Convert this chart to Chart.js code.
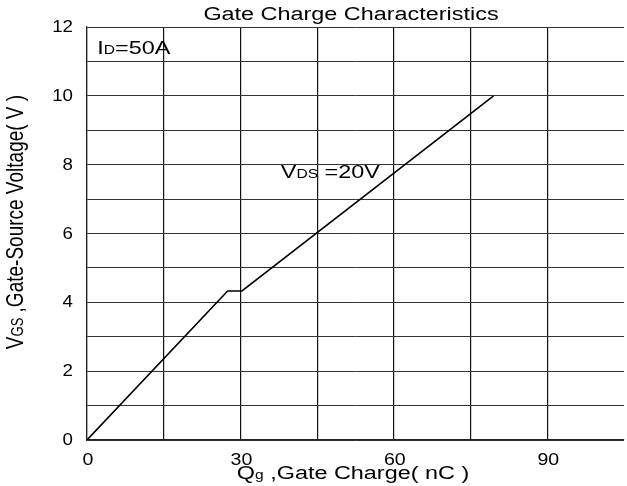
<!DOCTYPE html>
<html><head><meta charset="utf-8">
<script src="https://cdn.jsdelivr.net/npm/chart.js@4.4.1/dist/chart.umd.min.js"></script>
<style>html,body{margin:0;padding:0;background:#fff;overflow:hidden}#wrap{width:627px;height:486px}</style>
</head><body><div id="wrap"><canvas id="c" width="627" height="486"></canvas></div>
<script>
// Data
const qg = [0, 27.5, 30.3, 79.5];          // gate charge, nC
const vgs = [0, 4.33, 4.33, 10];            // gate-source voltage, V
const xLabelValues = [0, 30, 60, 90];
const yLabelValues = [0, 2, 4, 6, 8, 10, 12];
const titleText = 'Gate Charge Characteristics';
const idNote = {main: 'I', sub: 'D', rest: '=50A', x: 2, y: 11.4};
const vdsNote = {main: 'V', sub: 'DS', rest: ' =20V', x: 37.9, y: 7.8};
const xTitle = {main: 'Q', sub: 'g', rest: ' ,Gate Charge( nC )'};
const yTitle = {main: 'V', sub: 'GS', rest: ' ,Gate-Source Voltage( V )'};

const FONT = '"Liberation Sans", Arial, sans-serif';
const SX = 1.3;   // horizontal stretch of the reference lettering
const BIG = 18, SMALL = 12;

function measure(ctx, parts) {
  let w = 0;
  parts.forEach(p => { ctx.font = p.size + 'px ' + FONT; w += ctx.measureText(p.t).width; });
  return w;
}
function runs(ctx, parts, x, y, align, sx) {
  sx = sx || SX;
  const w = measure(ctx, parts) * sx;
  let x0 = align === 'center' ? x - w / 2 : align === 'right' ? x - w : x;
  ctx.save();
  ctx.translate(x0, y);
  ctx.scale(sx, 1);
  ctx.textBaseline = 'alphabetic';
  ctx.textAlign = 'left';
  let cx = 0;
  parts.forEach(p => {
    ctx.font = p.size + 'px ' + FONT;
    ctx.fillText(p.t, cx, 0);
    cx += ctx.measureText(p.t).width;
  });
  ctx.restore();
}
function subParts(n, big, small) {
  return [{t: n.main, size: big || BIG}, {t: n.sub, size: small || SMALL}, {t: n.rest, size: big || BIG}];
}

const textPlugin = {
  id: 'texts',
  afterDraw(chart) {
    const ctx = chart.ctx, xs = chart.scales.x, ys = chart.scales.y;
    ctx.save();
    ctx.fillStyle = '#000';
    // tick labels, positioned by the chart's own scales
    xLabelValues.forEach(v => runs(ctx, [{t: String(v), size: 17}], xs.getPixelForValue(v) + 1, 465, 'center', 1.15));
    yLabelValues.forEach(v => runs(ctx, [{t: String(v), size: 17}], 73, ys.getPixelForValue(v) + 5, 'right', 1.1));
    // title
    runs(ctx, [{t: titleText, size: BIG}], 351, 20, 'center');
    // notes
    runs(ctx, subParts(idNote), xs.getPixelForValue(idNote.x), ys.getPixelForValue(idNote.y) + 6, 'left');
    runs(ctx, subParts(vdsNote), xs.getPixelForValue(vdsNote.x), ys.getPixelForValue(vdsNote.y) + 6, 'left');
    // x title
    runs(ctx, subParts(xTitle), 353, 479, 'center');
    // y title (rotated)
    ctx.save();
    ctx.translate(23, 222);
    ctx.scale(1.25, 1);
    ctx.rotate(-Math.PI / 2);
    runs(ctx, subParts(yTitle, 19, 13), 0, 0, 'center', 1);
    ctx.restore();
    ctx.restore();
  }
};

new Chart(document.getElementById('c'), {
  type: 'line',
  data: {
    datasets: [{
      data: qg.map((q, i) => ({x: q, y: vgs[i]})),
      borderColor: '#000', borderWidth: 1.6, pointRadius: 0, tension: 0, fill: false
    }]
  },
  options: {
    responsive: false, animation: false,
    layout: {padding: {top: 27, right: 0, left: 0, bottom: 0}},
    plugins: {legend: {display: false}, tooltip: {enabled: false}, title: {display: false}},
    scales: {
      x: {
        type: 'linear', min: 0, max: 105,
        afterBuildTicks: s => { s.ticks = s.ticks.filter(t => t.value % 15 === 0); },
        afterFit: s => { s.height = 46; },
        ticks: {stepSize: 15, autoSkip: false, maxRotation: 0, callback: () => ''},
        grid: {drawTicks: false, color: c => c.tick && c.tick.value === 105 ? 'rgba(0,0,0,0)' : '#111', lineWidth: 1.2},
        border: {color: '#222', width: 1.2}
      },
      y: {
        type: 'linear', min: 0, max: 12,
        afterFit: s => { s.width = 87; },
        ticks: {stepSize: 1, autoSkip: false, callback: () => ''},
        grid: {drawTicks: false, color: '#333', lineWidth: 1},
        border: {color: '#222', width: 1.2}
      }
    }
  },
  plugins: [textPlugin]
});
</script></body></html>
